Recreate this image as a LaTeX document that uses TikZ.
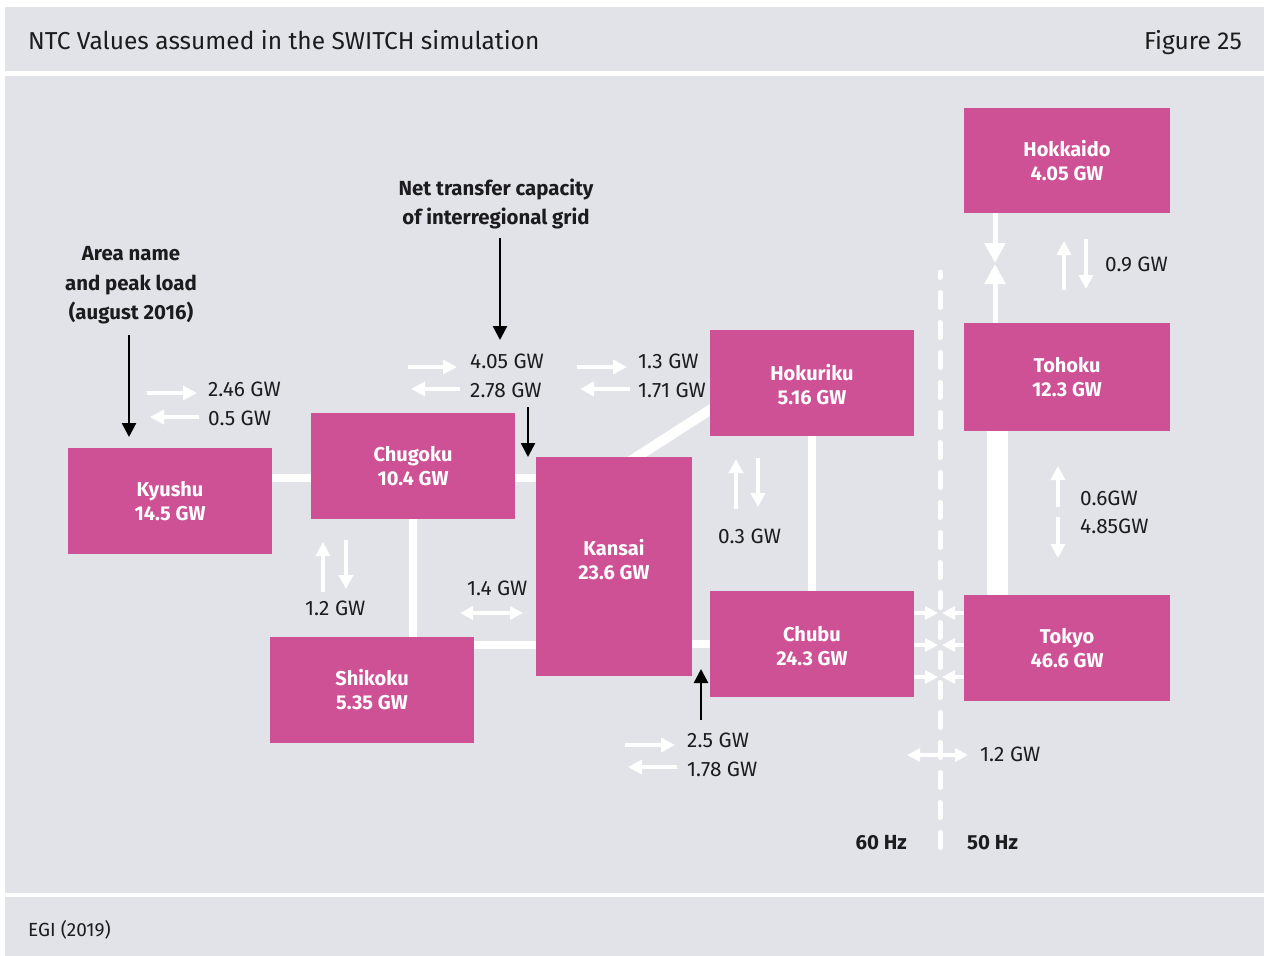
\documentclass[tikz,border=0pt]{standalone}
\usepackage{fontspec}
\setmainfont{Fira Sans}
\usetikzlibrary{arrows.meta,calc}
\definecolor{panel}{RGB}{226,227,232}
\definecolor{areapink}{RGB}{206,80,149}
\definecolor{ink}{RGB}{28,28,30}
\pgfdeclarelayer{bg}
\pgfdeclarelayer{links}
\pgfsetlayers{bg,links,main}
\tikzset{
  regionbox/.style={fill=areapink, text=white, align=center, inner sep=0pt,
    minimum width=204pt, minimum height=106pt,
    font=\fontsize{20}{24}\selectfont\bfseries},
  gwlabel/.style={anchor=base west, inner sep=0pt, text=ink,
    font=\fontsize{20.8}{24}\selectfont},
  notelabel/.style={align=center, inner sep=0pt, text=ink,
    font=\fontsize{20.4}{29.5}\selectfont\bfseries},
  hzlabel/.style={inner sep=0pt, text=ink, font=\fontsize{20.4}{24}\selectfont\bfseries},
  link/.style={draw=white, line width=8pt},
  flow/.style={draw=white, line width=4.5pt, -{Triangle[width=14pt,length=14pt]}},
  flowboth/.style={draw=white, line width=4pt, {Triangle[width=13pt,length=13pt]}-{Triangle[width=13pt,length=13pt]}},
  convflow/.style={draw=white, line width=4pt, -{Triangle[width=13pt,length=13pt]}},
  bigflow/.style={draw=white, line width=5pt, -{Triangle[width=20pt,length=20pt]}},
  pointer/.style={draw=black, line width=2.5pt, -{Triangle[width=14pt,length=14pt]}},
}
\begin{document}
\begin{tikzpicture}[x=1pt,y=-1pt]
\useasboundingbox (0,0) rectangle (1264,956);

% page panels
\begin{pgfonlayer}{bg}
  \fill[white] (0,0) rectangle (1264,956);
  \fill[panel] (5,7) rectangle (1264,71);
  \fill[panel] (5,76) rectangle (1264,893);
  \fill[panel] (5,897) rectangle (1264,956);
\end{pgfonlayer}

% header and footer
\node[anchor=base west, inner sep=0pt, text=ink, font=\fontsize{24.5}{28}\selectfont] (title) at (28,49) {NTC Values assumed in the SWITCH simulation};
\node[anchor=base east, inner sep=0pt, text=ink, font=\fontsize{24.5}{28}\selectfont] (fignum) at (1242,49) {Figure 25};
\node[anchor=base west, inner sep=0pt, text=ink, font=\fontsize{19}{23}\selectfont] (source) at (28,936) {EGI (2019)};

% areas
\node[regionbox] (kyushu)   at (170,501)   {Kyushu\\14.5 GW};
\node[regionbox] (chugoku)  at (413,466)   {Chugoku\\10.4 GW};
\node[regionbox] (shikoku)  at (372,690)   {Shikoku\\5.35 GW};
\node[regionbox, minimum width=156pt, minimum height=219pt, text depth=15pt] (kansai) at (614,566.5) {Kansai\\23.6 GW};
\node[regionbox, text height=44pt] (hokuriku) at (812,383)   {Hokuriku\\5.16 GW};
\node[regionbox, text height=44pt] (chubu)    at (812,644)   {Chubu\\24.3 GW};
\node[regionbox, minimum width=206pt, minimum height=105pt] (hokkaido) at (1067,160.5) {Hokkaido\\4.05 GW};
\node[regionbox, minimum width=206pt, minimum height=108pt] (tohoku)   at (1067,377)   {Tohoku\\12.3 GW};
\node[regionbox, minimum width=206pt] (tokyo)    at (1067,648)   {Tokyo\\46.6 GW};

% interregional lines (behind the areas)
\begin{pgfonlayer}{links}
  \coordinate (west) at ([yshift=-12pt]chugoku.center);
  \draw[link] (west -| kyushu.east) -- (west -| kansai.west);
  \draw[link] (chugoku.south) -- (chugoku.south |- shikoku.north);
  \coordinate (south) at ([yshift=45pt]shikoku.east);
  \draw[link] (south) -- (south -| kansai.west);
  \draw[link] (kansai.east |- chubu.west) -- (chubu.west);
  \draw[link, line width=10pt, shorten <=-8pt, shorten >=-8pt]
    ([xshift=23pt]kansai.north) -- ([yshift=-27pt]hokuriku.west);
  \draw[link] (hokuriku.south) -- (chubu.north);
  \draw[link, line width=21pt] ([xshift=-70pt]tohoku.south) -- ([xshift=-70pt]tokyo.north);
\end{pgfonlayer}

% 60 Hz / 50 Hz frequency border
\coordinate (hztop) at (940,272);
\coordinate (hzbot) at (940,847.5);
\draw[white, line width=5pt, line cap=round, dash pattern=on 15pt off 15pt] (hzbot) -- (hztop);
\node[hzlabel, anchor=base east] (hz60) at (907,849) {60 Hz};
\node[hzlabel, anchor=base west] (hz50) at (967,849) {50 Hz};

% Hokkaido - Tohoku link through converter
\coordinate (hkmid) at ($([xshift=-72pt]hokkaido.south)!0.5!([xshift=-72pt]tohoku.north)$);
\draw[bigflow] ([xshift=-72pt]hokkaido.south) -- ([yshift=5pt]hkmid);
\draw[bigflow] ([xshift=-72pt]tohoku.north) -- ([yshift=4pt]hkmid);

% Chubu - Tokyo converters
\foreach \dy in {31,-1,-33} {
  \path ([yshift=\dy pt]chubu.east) coordinate (row);
  \draw[convflow] (row) -- ([xshift=-2pt]row -| hztop);
  \draw[convflow] (row -| tokyo.west) -- ([xshift=2pt]row -| hztop);
}
\draw[flowboth] (907,755) -- (968,755);
\node[gwlabel] (gwhz) at (980,761) {1.2 GW};

% transfer capacities
\draw[flow] (147,393) -- (197,393);
\draw[flow] (199,417) -- (150,417);
\node[gwlabel] (gwka) at (208,396) {2.46 GW};
\node[gwlabel] (gwkb) at (208,425) {0.5 GW};

\draw[flow] (408,367) -- (457,367);
\draw[flow] (460,389) -- (411,389);
\node[gwlabel] (gwca) at (470,368) {4.05 GW};
\node[gwlabel] (gwcb) at (470,397) {2.78 GW};

\draw[flow] (577,367) -- (627,367);
\draw[flow] (630,389) -- (580,389);
\node[gwlabel] (gwha) at (638,368) {1.3 GW};
\node[gwlabel] (gwhb) at (638,397) {1.71 GW};

\draw[flow] (323,592) -- (323,542);
\draw[flow] (346,540) -- (346,589);
\node[gwlabel] (gwcs) at (305,615) {1.2 GW};

\draw[flowboth] (460,613) -- (523,613);
\node[gwlabel] (gwsk) at (467,595) {1.4 GW};

\draw[flow] (736,509) -- (736,459);
\draw[flow] (758,458) -- (758,507);
\node[gwlabel] (gwhc) at (718,543) {0.3 GW};

\draw[flow] (625,745) -- (675,745);
\draw[flow] (677,767) -- (628,767);
\node[gwlabel] (gwkca) at (687,747) {2.5 GW};
\node[gwlabel] (gwkcb) at (687,776) {1.78 GW};

\draw[flow] (1064,290) -- (1064,241);
\draw[flow] (1086,239) -- (1086,289);
\node[gwlabel] (gwht) at (1105,271) {0.9 GW};

\draw[flow] (1058,507) -- (1058,466);
\draw[flow] (1058,517) -- (1058,558);
\node[gwlabel] (gwtta) at (1080,505) {0.6GW};
\node[gwlabel] (gwttb) at (1080,533) {4.85GW};

% annotations
\node[notelabel] (areanote) at (131,285.5) {Area name\\and peak load\\(august 2016)};
\node[notelabel] (ntcnote) at (496,204) {Net transfer capacity\\of interregional grid};
\draw[pointer] (129,335) -- (129,437);
\draw[pointer] (500,238) -- (500,340);
\draw[pointer] (528,407) -- (528,457);
\draw[pointer] (701,720) -- (701,669);
\end{tikzpicture}
\end{document}
